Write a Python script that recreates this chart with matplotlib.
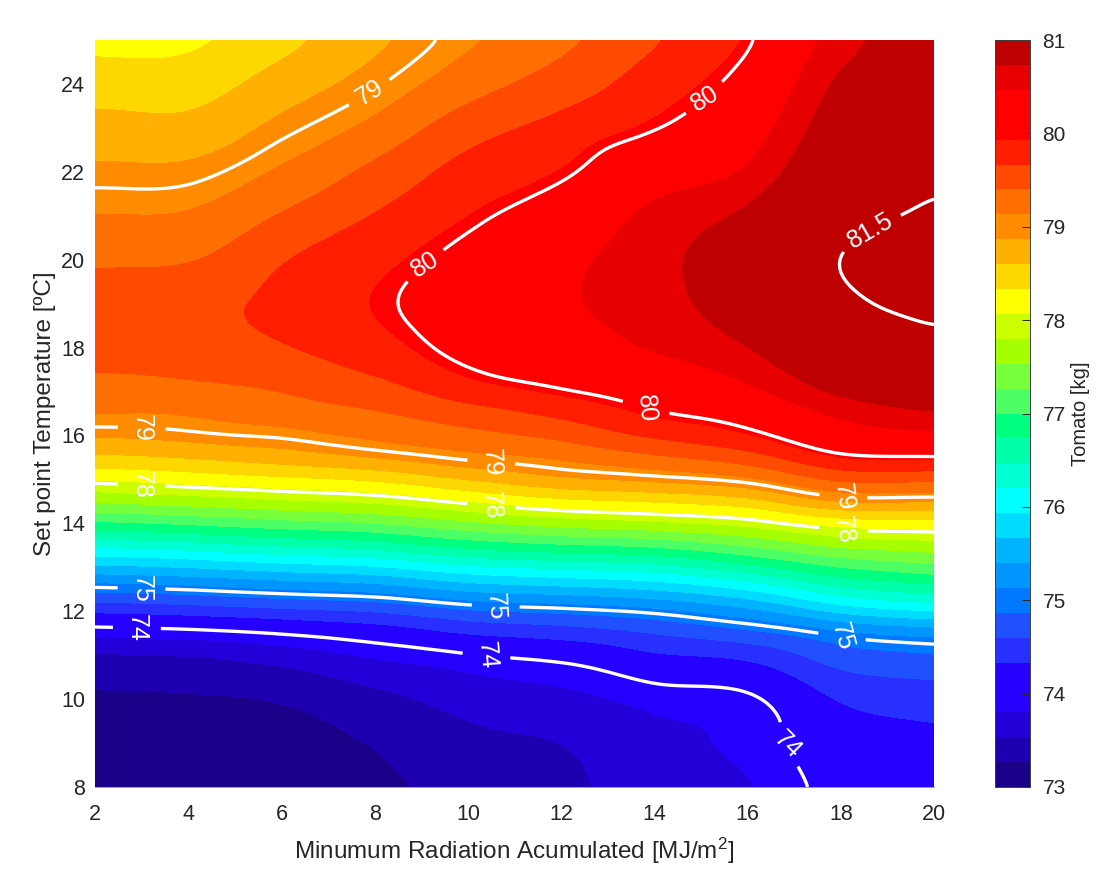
import numpy as np
import matplotlib
matplotlib.use("Agg")
import matplotlib.pyplot as plt
import matplotlib.tri as mtri
from matplotlib.cm import ScalarMappable
from matplotlib.colors import BoundaryNorm, ListedColormap

# ============================================================
# DATA
# ============================================================

radiation = [2, 4, 6, 8, 10, 12, 14, 16, 18, 20]
setpoint = [8, 9, 10, 11, 11.5, 12, 12.5, 13, 13.5, 14, 14.5, 15, 15.5,
            16, 16.5, 17, 18, 19, 20, 21, 22, 23, 24, 25]

# one row per setpoint, one column per radiation value
tomato = [
    [73.10, 73.10, 73.12, 73.20, 73.36, 73.48, 73.65, 73.77, 74.10, 74.22],
    [73.17, 73.17, 73.19, 73.28, 73.46, 73.53, 73.72, 73.87, 74.20, 74.27],
    [73.23, 73.24, 73.28, 73.45, 73.63, 73.72, 73.87, 73.94, 74.35, 74.45],
    [73.49, 73.53, 73.65, 73.83, 73.96, 74.07, 74.30, 74.40, 74.75, 74.85],
    [73.85, 73.90, 74.00, 74.14, 74.35, 74.45, 74.60, 74.78, 75.02, 75.17],
    [74.37, 74.43, 74.52, 74.60, 74.80, 74.89, 75.02, 75.30, 75.75, 75.96],
    [74.93, 75.00, 75.12, 75.22, 75.47, 75.57, 75.70, 75.95, 76.40, 76.60],
    [75.60, 75.68, 75.80, 75.90, 76.13, 76.25, 76.35, 76.65, 77.00, 77.20],
    [76.25, 76.35, 76.49, 76.60, 76.84, 76.97, 77.07, 77.30, 77.60, 77.70],
    [76.95, 77.05, 77.17, 77.27, 77.48, 77.65, 77.75, 77.88, 78.14, 78.20],
    [77.57, 77.66, 77.77, 77.86, 78.06, 78.25, 78.35, 78.50, 78.90, 78.90],
    [78.09, 78.18, 78.27, 78.37, 78.62, 78.85, 78.95, 79.10, 79.45, 79.45],
    [78.55, 78.62, 78.75, 78.90, 79.07, 79.17, 79.35, 79.55, 79.95, 80.00],
    [78.90, 78.97, 79.03, 79.20, 79.33, 79.47, 79.72, 79.93, 80.30, 80.40],
    [79.15, 79.15, 79.28, 79.37, 79.53, 79.73, 79.98, 80.15, 80.52, 80.72],
    [79.27, 79.32, 79.40, 79.55, 79.82, 79.98, 80.15, 80.40, 80.80, 80.95],
    [79.55, 79.57, 79.65, 79.84, 80.10, 80.30, 80.50, 80.73, 81.15, 81.30],
    [79.57, 79.60, 79.74, 79.95, 80.18, 80.42, 80.62, 80.95, 81.40, 81.68],
    [79.35, 79.38, 79.65, 79.86, 80.10, 80.38, 80.65, 80.95, 81.52, 81.78],
    [79.14, 79.16, 79.42, 79.68, 79.93, 80.20, 80.55, 80.80, 81.32, 81.58],
    [78.92, 78.93, 79.17, 79.47, 79.77, 79.94, 80.30, 80.50, 81.13, 81.40],
    [78.70, 78.68, 78.94, 79.20, 79.55, 79.76, 79.98, 80.30, 80.95, 81.22],
    [78.47, 78.47, 78.72, 78.97, 79.28, 79.52, 79.80, 80.12, 80.80, 81.10],
    [78.25, 78.27, 78.50, 78.80, 79.08, 79.32, 79.63, 79.95, 80.60, 81.00],
]

band_colors = [
    "#1a0088", "#1f00b0", "#2400d8", "#2600ff", "#2600ff", "#2830ff",
    "#2050ff", "#0078ff", "#0096ff", "#00b4ff", "#00dcff", "#00ffff",
    "#00ffd2", "#00ffaa", "#00ff80", "#4bff64", "#78ff3c", "#a5ff00",
    "#ccff00", "#ffff00", "#ffd700", "#ffb000", "#ff8c00", "#ff6e00",
    "#ff4b00", "#ff1e00", "#ff0000", "#ff0000", "#e60000", "#be0000",
]

line_levels = [74, 75, 78, 79, 80, 81.5]

# label text position on the lines: (radiation, setpoint, rotation)
line_labels = [
    (3.0, 16.13, -90), (3.0, 14.88, -90), (3.0, 12.55, -90), (2.9, 11.67, -90),
    (7.85, 23.87, 32), (15.1, 23.65, 32), (18.5, 20.9, 30), (9.06, 19.9, 32),
    (13.8, 16.55, -85), (10.5, 15.38, -87), (10.5, 14.42, -87), (10.6, 12.19, -87),
    (10.4, 11.0, -85), (18.05, 14.54, -82), (18.05, 13.85, -82), (18.03, 11.46, -75),
    (17.2, 9.1, -45),
]


def smooth_surface(xs, ys, values, width=5):
    """Cubic surface through the table on a regular grid, lightly blurred to drop mesh kinks."""
    xx, yy = np.meshgrid(xs, ys)
    tri = mtri.Triangulation(xx.ravel(), yy.ravel())
    fine_x, fine_y = np.meshgrid(np.linspace(2, 20, 181), np.linspace(8, 25, 171))
    interp = mtri.CubicTriInterpolator(tri, np.array(values).ravel(), kind='geom')
    fine_z = np.asarray(interp(fine_x, fine_y))

    kernel = np.hanning(2 * width + 3)[1:-1]
    kernel = kernel / kernel.sum()
    pad = np.pad(fine_z, width, mode='edge')
    pad = np.apply_along_axis(lambda c: np.convolve(c, kernel, mode='same'), 0, pad)
    pad = np.apply_along_axis(lambda r: np.convolve(r, kernel, mode='same'), 1, pad)
    return fine_x, fine_y, pad[width:-width, width:-width]


# ============================================================
# FIGURE
# ============================================================

plt.rcParams.update({
    'font.family': ['Liberation Sans', 'DejaVu Sans'],
    'mathtext.default': 'regular',
    'text.color': '#262626',
    'axes.labelcolor': '#262626',
    'xtick.color': '#262626',
    'ytick.color': '#262626',
})

W, H = 1105, 875
fig = plt.figure(figsize=(W / 100, H / 100), dpi=100, facecolor='white')
ax = fig.add_axes([95 / W, 1 - 787 / H, 839 / W, 747 / H])
cax = fig.add_axes([995 / W, 1 - 787 / H, 35 / W, 747 / H])

fine_x, fine_y, fine_z = smooth_surface(radiation, setpoint, tomato)

levels = np.linspace(73, 81, len(band_colors) + 1)
cf = ax.contourf(fine_x, fine_y, fine_z, levels=levels,
                 colors=band_colors + ["#be0000"], extend='max')
for_lines = ax.contour(fine_x, fine_y, fine_z, levels=line_levels,
                       colors='white', linewidths=2.4)

ax.set_xlim(2, 20)
ax.set_ylim(8, 25)
ax.set_xticks(radiation)
ax.set_yticks(range(8, 26, 2))
ax.tick_params(length=0, labelsize=15.5, pad=7)
ax.tick_params(axis='x', pad=12)
for name, sp in ax.spines.items():
    sp.set_visible(name == 'bottom')
ax.spines['bottom'].set_color('#8c8c8c')
ax.spines['bottom'].set_linewidth(0.6)
ax.set_xlabel('Minumum Radiation Acumulated [MJ/m$^2$]', fontsize=17.5, labelpad=8)
ax.set_ylabel('Set point Temperature [ºC]', fontsize=17.5, labelpad=4)

label_xy = [(px, py) for px, py, rot in line_labels]
texts = ax.clabel(for_lines, manual=label_xy, inline=True, inline_spacing=10,
                  fmt='%g', fontsize=18, colors='white')
for txt, (px, py, rot) in zip(texts, line_labels):
    txt.set_rotation(rot)

bar_map = ScalarMappable(norm=BoundaryNorm(levels, len(band_colors)),
                         cmap=ListedColormap(band_colors))
cbar = fig.colorbar(bar_map, cax=cax, spacing='proportional')
cbar.set_ticks(range(73, 82))
cbar.ax.tick_params(direction='in', length=6, width=0.7, labelsize=15, pad=9, color='#262626')
cbar.ax.minorticks_off()
cbar.outline.set_edgecolor('#404040')
cbar.outline.set_linewidth(0.7)
cbar.set_label('Tomato [kg]', fontsize=14.5, labelpad=4)

fig.savefig('out.png', dpi=100, facecolor='white')
